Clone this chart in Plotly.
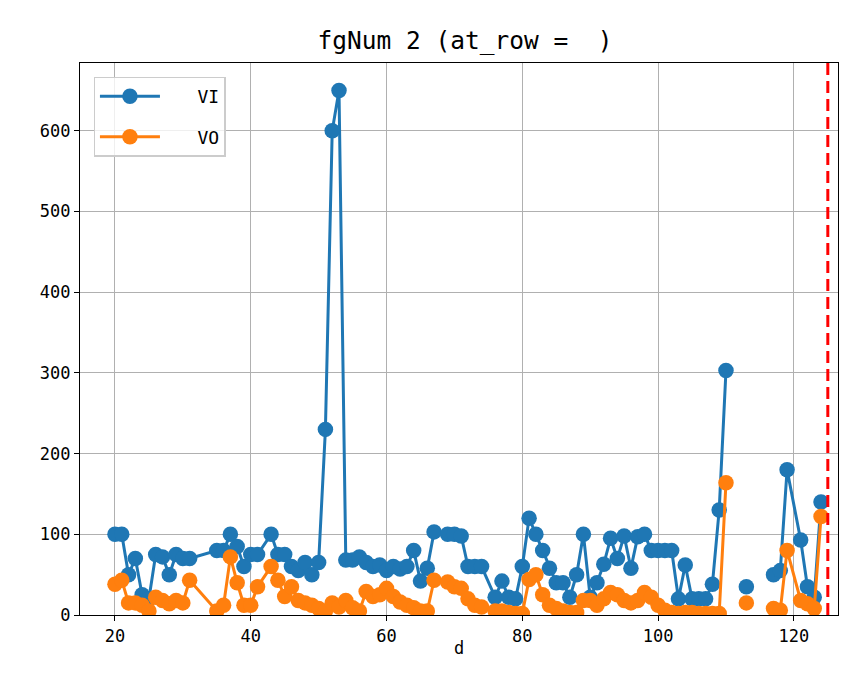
import plotly.graph_objects as go

d_vals = [20, 21, 22, 23, 24, 25, 26, 27, 28, 29, 30, 31, 35, 36, 37, 38, 39, 40, 41,
          43, 44, 45, 46, 47, 48, 49, 50, 51, 52, 53, 54, 55, 56, 57, 58, 59, 60, 61,
          62, 63, 64, 65, 66, 67, 69, 70, 71, 72, 73, 74, 76, 77, 78, 79, 80, 81, 82,
          83, 84, 85, 86, 87, 88, 89, 90, 91, 92, 93, 94, 95, 96, 97, 98, 99, 100, 101,
          102, 103, 104, 105, 106, 107, 108, 109, 110, 111, 113, 114, 117, 118, 119,
          121, 122, 123, 124]

vi_vals = [100, 100, 50, 70, 25, 20, 75, 72, 50, 75, 70, 70, 80, 80, 100, 85, 60, 75, 75,
           100, 75, 75, 60, 55, 65, 50, 65, 230, 600, 650, 68, 68, 72, 65, 60, 62, 55, 60,
           57, 60, 80, 42, 58, 103, 100, 100, 98, 60, 60, 60, 22, 42, 22, 20, 60, 120, 100,
           80, 58, 40, 40, 22, 50, 100, 22, 40, 63, 95, 70, 98, 58, 97, 100, 80, 80, 80,
           80, 20, 62, 20, 20, 20, 38, 130, 303, None, 35, None, 50, 55, 180,
           93, 35, 22, 140]

vo_vals = [38, 43, 15, 15, 12, 5, 22, 18, 14, 18, 15, 43, 5, 12, 72, 40, 12, 12, 35,
           60, 43, 23, 35, 18, 15, 12, 8, 5, 15, 10, 18, 9, 5, 29, 23, 25, 33, 23,
           16, 12, 9, 5, 5, 43, 41, 35, 33, 20, 12, 10, 5, 5, 3, 2, 2, 44, 50,
           25, 12, 8, 5, 3, 3, 18, 18, 12, 20, 28, 25, 18, 15, 18, 28, 22, 12, 6,
           3, 2, 3, 3, 2, 2, 2, 2, 164, None, 15, None, 8, 6, 80,
           18, 14, 8, 122]

series_names = ["VI", "VO"]
vline_x = 125
x_label = "d"
title_text = "fgNum 2 (at_row =\u00a0\u00a0)"

FONT = "DejaVu Sans Mono, Noto Sans CJK SC"

fig = go.Figure()
for i, (name, vals, color) in enumerate([(series_names[0], vi_vals, "#1f77b4"),
                                         (series_names[1], vo_vals, "#ff7f0e")]):
    fig.add_trace(go.Scatter(
        x=d_vals, y=vals, name="\u00a0\u00a0\u00a0" + name, mode="lines+markers",
        line=dict(color=color, width=3),
        marker=dict(color=color, size=15.5),
        connectgaps=False, legendgroup=str(i),
    ))

fig.add_shape(type="line", xref="x", yref="paper", x0=vline_x, x1=vline_x, y0=0, y1=1,
              line=dict(color="red", width=3, dash="12px,6px"))

axis_common = dict(
    showline=True, linecolor="black", linewidth=1.3, mirror=True,
    ticks="outside", ticklen=5, tickwidth=1.3, tickcolor="black",
    showgrid=True, gridcolor="#b0b0b0", gridwidth=1.1, zeroline=False,
    tickfont=dict(family=FONT, size=17, color="black"),
)

fig.add_annotation(text=x_label, xref="paper", yref="paper", x=0.5, y=-0.0598,
                   xanchor="center", yanchor="middle", showarrow=False,
                   font=dict(family=FONT, size=17, color="black"))

fig.update_layout(
    width=838, height=672,
    margin=dict(l=72, r=8, t=55, b=65),
    paper_bgcolor="white", plot_bgcolor="white",
    title=dict(text=title_text, x=(457 / 838), xanchor="center", y=1 - 32 / 672, yanchor="middle",
               font=dict(family=FONT, size=24.5, color="black")),
    xaxis=dict(range=[14.85, 126.5], tickvals=[20, 40, 60, 80, 100, 120], **axis_common),
    yaxis=dict(range=[0, 684], tickvals=[0, 100, 200, 300, 400, 500, 600], **axis_common),
    legend=dict(x=0.018, y=0.975, xanchor="left", yanchor="top",
                bgcolor="rgba(255,255,255,0.8)", bordercolor="#cccccc", borderwidth=1.3,
                font=dict(family=FONT, size=18, color="black"),
                itemwidth=60, tracegroupgap=14),
    showlegend=True,
)

fig.write_html("out.html")
